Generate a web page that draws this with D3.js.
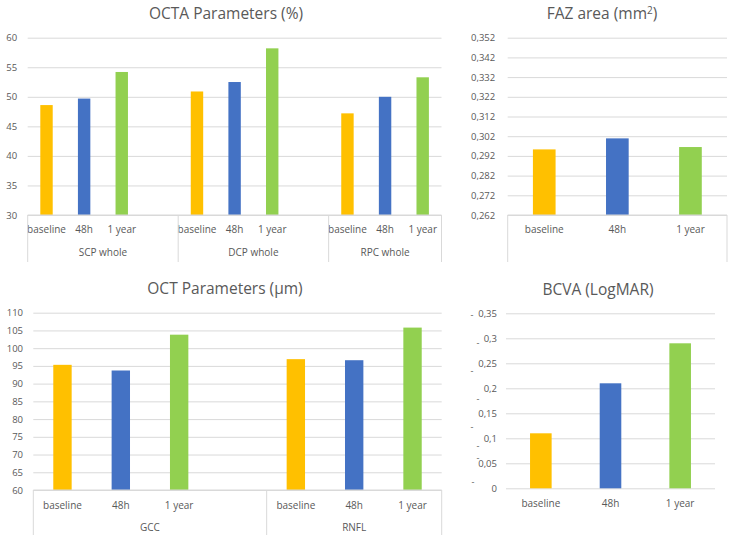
<!DOCTYPE html>
<html><head><meta charset="utf-8">
<script src="https://cdn.jsdelivr.net/npm/d3@7"></script>
<style>
html,body{margin:0;padding:0;background:#fff;}
svg{display:block;font-family:"Open Sans",sans-serif;}
</style></head>
<body>
<svg id="c" width="733" height="541"></svg>
<script>
// ---------- DATA ----------
const timepoints = ["baseline", "48h", "1 year"];
const seriesColors = ["#FFC000", "#4472C4", "#92D050"];

const octaGroups = ["SCP whole", "DCP whole", "RPC whole"];
const octaBaseline = [48.6, 50.9, 47.2];
const octa48h = [49.7, 52.5, 50.0];
const octa1year = [54.2, 58.2, 53.3];
const octaTicks = [30, 35, 40, 45, 50, 55, 60];

const fazValues = [0.2953, 0.3009, 0.2965];
const fazTicks = [0.262, 0.272, 0.282, 0.292, 0.302, 0.312, 0.322, 0.332, 0.342, 0.352];

const octGroups = ["GCC", "RNFL"];
const octBaseline = [95.3, 96.9];
const oct48h = [93.7, 96.6];
const oct1year = [103.8, 105.8];
const octTicks = [60, 65, 70, 75, 80, 85, 90, 95, 100, 105, 110];

const bcvaValues = [0.11, 0.21, 0.29];
const bcvaTicks = [0, 0.05, 0.1, 0.15, 0.2, 0.25, 0.3, 0.35];

// ---------- HELPERS ----------
const svg = d3.select("#c");
const GRID = "#D9D9D9", TXT = "#595959";
const comma = f => v => d3.format(f)(v).replace(".", ",");

function drawChart(o) {
  const g = svg.append("g");
  const x = d3.scaleBand().domain(o.slots.map(s => s.key)).range([o.x0, o.x1]).padding(0);
  const y = d3.scaleLinear().domain(o.yDomain).range([o.yBottom, o.yTop]);
  const yAxis = d3.axisLeft(y).tickValues(o.ticks).tickFormat(o.fmt)
    .tickSize(-(o.x1 - o.x0)).tickPadding(o.pad);
  const ya = g.append("g").attr("transform", `translate(${o.x0},0)`).call(yAxis);
  ya.select(".domain").remove();
  ya.selectAll(".tick line").attr("stroke", GRID).attr("stroke-width", 1);
  ya.selectAll(".tick text").attr("fill", TXT).style("font-size", o.tickSize + "px")
    .style("font-family", "Open Sans");
  // bars
  const bw = x.bandwidth() * o.barFrac;
  g.selectAll("rect.bar").data(o.slots.filter(s => s.value != null)).join("rect")
    .attr("x", d => x(d.key) + (x.bandwidth() - bw) / 2)
    .attr("y", d => y(d.value))
    .attr("width", bw)
    .attr("height", d => y(o.yDomain[0]) - y(d.value))
    .attr("fill", d => d.color);
  // category labels
  g.selectAll("text.cat").data(o.slots.filter(s => s.label)).join("text")
    .attr("x", d => x(d.key) + x.bandwidth() / 2)
    .attr("y", o.catY).attr("text-anchor", "middle").attr("dominant-baseline", "central")
    .attr("fill", TXT).style("font-size", "10px").text(d => d.label);
  // box / group axis
  if (o.box) {
    g.append("line").attr("x1", o.x0).attr("x2", o.x1)
      .attr("y1", o.yBottom).attr("y2", o.yBottom).attr("stroke", GRID);
    const bounds = [o.x0];
    if (o.groups) {
      o.groups.forEach(gr => {
        const last = o.slots.filter(s => s.group === gr);
        const s = last[last.length - 1];
        bounds.push(x(s.key) + x.bandwidth());
      });
    } else bounds.push(o.x1);
    g.selectAll("line.sep").data(bounds).join("line")
      .attr("x1", d => d).attr("x2", d => d)
      .attr("y1", o.yBottom).attr("y2", o.boxBottom).attr("stroke", GRID);
    if (o.groups) {
      o.groups.forEach((gr, i) => {
        g.append("text").attr("x", (bounds[i] + bounds[i + 1]) / 2).attr("y", o.groupY)
          .attr("text-anchor", "middle").attr("dominant-baseline", "central")
          .attr("fill", TXT).style("font-size", "10px").text(gr);
      });
    }
  }
  // title
  const t = g.append("text").attr("x", o.titleX).attr("y", o.titleY)
    .attr("text-anchor", "middle").attr("fill", TXT).style("font-size", "15.5px");
  o.title(t);
  return {g, x, y};
}

function groupedSlots(groups, series, withGap) {
  const slots = [];
  groups.forEach((gr, gi) => {
    timepoints.forEach((tp, ti) => {
      slots.push({key: gr + "|" + tp, group: gr, label: tp, value: series[ti][gi], color: seriesColors[ti]});
    });
    if (gi < groups.length - 1) slots.push({key: gr + "|gap", group: gr, label: null, value: null});
  });
  return slots;
}
function simpleSlots(values) {
  return timepoints.map((tp, i) => ({key: tp, label: tp, value: values[i], color: seriesColors[i]}));
}

// ---------- OCTA ----------
drawChart({
  slots: groupedSlots(octaGroups, [octaBaseline, octa48h, octa1year]),
  groups: octaGroups,
  x0: 27.7, x1: 441.5, yTop: 37.7, yBottom: 215, yDomain: [30, 60],
  ticks: octaTicks, fmt: d3.format("d"), pad: 10.5, tickSize: 9.5,
  barFrac: 0.33, catY: 229, groupY: 252, box: true, boxBottom: 262,
  titleX: 226, titleY: 19, title: t => t.text("OCTA Parameters (%)")
});

// ---------- FAZ ----------
drawChart({
  slots: simpleSlots(fazValues),
  x0: 507.7, x1: 727, yTop: 37.7, yBottom: 215, yDomain: [0.262, 0.352],
  ticks: fazTicks, fmt: comma(".3f"), pad: 12.5, tickSize: 9.5,
  barFrac: 0.31, catY: 229, box: true, boxBottom: 262,
  titleX: 602, titleY: 19,
  title: t => { t.append("tspan").text("FAZ area (mm");
    t.append("tspan").attr("dy", -5).style("font-size", "10px").text("2");
    t.append("tspan").attr("dy", 5).text(")"); }
});

// ---------- OCT ----------
drawChart({
  slots: groupedSlots(octGroups, [octBaseline, oct48h, oct1year]),
  groups: octGroups,
  x0: 33.3, x1: 441.7, yTop: 312.7, yBottom: 490, yDomain: [60, 110],
  ticks: octTicks, fmt: d3.format("d"), pad: 10.3, tickSize: 9.5,
  barFrac: 0.315, catY: 505, groupY: 527, box: true, boxBottom: 535,
  titleX: 225, titleY: 294, title: t => t.text("OCT Parameters (µm)")
});

// ---------- BCVA ----------
const bcva = drawChart({
  slots: simpleSlots(bcvaValues),
  x0: 506, x1: 715, yTop: 313.3, yBottom: 488.3, yDomain: [0, 0.35],
  ticks: bcvaTicks, fmt: v => d3.format("")(+v.toFixed(2)).replace(".", ","), pad: 9, tickSize: 9.5,
  barFrac: 0.31, catY: 503, box: false,
  titleX: 598, titleY: 295, title: t => t.text("BCVA (LogMAR)")
});
// stray minus-sign marks beside the BCVA tick labels (as in the original rendering)
const dashLayout = [[473, -6.5], [478, -6], [478, 7.5], [472, 13], [478, 10], [472, 7.5], [478, 4.5], [472, 1.5]];
bcva.g.selectAll("text.dash").data(bcvaTicks).join("text")
  .attr("x", (d, i) => dashLayout[i][0])
  .attr("y", (d, i) => bcva.y(d) + dashLayout[i][1])
  .attr("text-anchor", "middle").attr("dominant-baseline", "central")
  .attr("fill", TXT).style("font-size", "9px").text("-");
</script>
</body></html>
